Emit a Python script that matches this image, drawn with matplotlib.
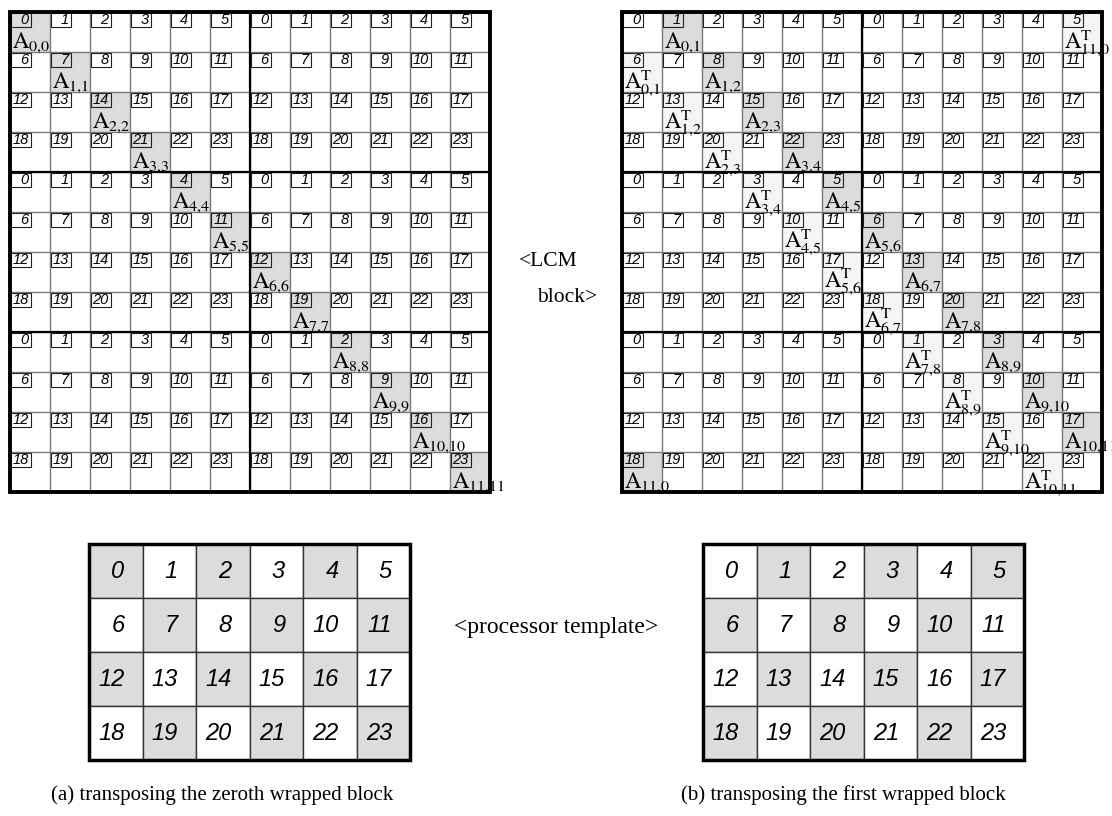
import matplotlib.pyplot as plt
from matplotlib.patches import Rectangle

plt.rcParams["mathtext.fontset"] = "stix"

# processor ids of the 4 x 6 processor template
proc_ids = [
    [0, 1, 2, 3, 4, 5],
    [6, 7, 8, 9, 10, 11],
    [12, 13, 14, 15, 16, 17],
    [18, 19, 20, 21, 22, 23],
]

# shaded template cells
shaded_a = [0, 2, 4, 7, 9, 11, 12, 14, 16, 19, 21, 23]
shaded_b = [1, 3, 5, 6, 8, 10, 13, 15, 17, 18, 20, 22]

# blocks (row, col) of the 12 x 12 LCM block
diag_blocks = [(0, 0), (1, 1), (2, 2), (3, 3), (4, 4), (5, 5),
               (6, 6), (7, 7), (8, 8), (9, 9), (10, 10), (11, 11)]
upper_blocks = [(0, 1), (1, 2), (2, 3), (3, 4), (4, 5), (5, 6),
                (6, 7), (7, 8), (8, 9), (9, 10), (10, 11), (11, 0)]
lower_blocks = [(1, 0), (2, 1), (3, 2), (4, 3), (5, 4), (6, 5),
                (7, 6), (8, 7), (9, 8), (10, 9), (11, 10), (0, 11)]

captions = ["(a) transposing the zeroth wrapped block",
            "(b) transposing the first wrapped block"]

GRAY = "#dcdcdc"
LIGHT = "#f5f5f5"
CELL = 40
N = 12
SERIF = "Liberation Serif"
SANS = "Liberation Sans"


def lcm_grid(ax, x0, y0, fills, labels):
    for r in range(N):
        for c in range(N):
            x = x0 + c * CELL
            y = y0 + r * CELL
            fc = fills.get((r, c), "white")
            ax.add_patch(Rectangle((x, y), CELL, CELL, facecolor=fc, edgecolor="none", zorder=1))
            # small processor number box
            ax.add_patch(Rectangle((x + 0.5, y + 0.5), 20, 14, facecolor=fc,
                                   edgecolor="#222222", lw=0.8, zorder=3))
            ax.text(x + 18.5, y + 8, str(proc_ids[r % 4][c % 6]), ha="right", va="center",
                    fontsize=10.5, style="italic", family=SANS, zorder=4)
    # thin cell lines
    for i in range(N + 1):
        ax.plot([x0 + i * CELL] * 2, [y0, y0 + N * CELL], color="#7a7a7a", lw=1.0, zorder=2)
        ax.plot([x0, x0 + N * CELL], [y0 + i * CELL] * 2, color="#7a7a7a", lw=1.0, zorder=2)
    # template boundaries
    ax.plot([x0 + 6 * CELL] * 2, [y0, y0 + N * CELL], color="black", lw=1.6, zorder=5)
    for r in (4, 8):
        ax.plot([x0, x0 + N * CELL], [y0 + r * CELL] * 2, color="black", lw=1.6, zorder=5)
    ax.add_patch(Rectangle((x0, y0), N * CELL, N * CELL, facecolor="none",
                           edgecolor="black", lw=2.8, zorder=6))
    for (r, c), lab in labels.items():
        ax.text(x0 + c * CELL + 2, y0 + (r + 1) * CELL - 4, lab, ha="left", va="baseline",
                fontsize=16.5, zorder=7)


def template(ax, x0, y0, shaded):
    cw, ch = 53.5, 54
    for r in range(4):
        for c in range(6):
            pid = proc_ids[r][c]
            fc = GRAY if pid in shaded else "white"
            ax.add_patch(Rectangle((x0 + c * cw, y0 + r * ch), cw, ch, facecolor=fc,
                                   edgecolor="#333333", lw=1.0, zorder=1))
            ax.text(x0 + (c + 1) * cw - 18, y0 + (r + 0.5) * ch, str(pid), ha="right",
                    va="center", fontsize=17, style="italic", family=SANS, zorder=3)
    ax.add_patch(Rectangle((x0, y0), 6 * cw, 4 * ch, facecolor="none",
                           edgecolor="black", lw=2.5, zorder=4))


fig = plt.figure(figsize=(11.12, 8.16), dpi=100)
ax = fig.add_axes([0, 0, 1, 1])
ax.set_xlim(0, 1112)
ax.set_ylim(816, 0)
ax.axis("off")

# (a) zeroth wrapped block: diagonal
fills_a = {b: GRAY for b in diag_blocks}
labels_a = {(r, c): r"$\mathrm{A}_{%d{,}%d}$" % (r, c) for r, c in diag_blocks}
lcm_grid(ax, 10, 12, fills_a, labels_a)

# (b) first wrapped block: super-diagonal and its transpose
fills_b = {b: GRAY for b in upper_blocks}
fills_b.update({b: LIGHT for b in lower_blocks})
labels_b = {(r, c): r"$\mathrm{A}_{%d{,}%d}$" % (r, c) for r, c in upper_blocks}
labels_b.update({(r, c): r"$\mathrm{A}^{\mathrm{T}}_{%d{,}%d}$" % (c, r) for r, c in lower_blocks})
lcm_grid(ax, 622, 12, fills_b, labels_b)

ax.text(548, 262, "<LCM", ha="center", va="center", fontsize=15.5, family=SERIF)
ax.text(567, 297, "block>", ha="center", va="center", fontsize=15.5, family=SERIF)

template(ax, 89, 544, shaded_a)
template(ax, 703, 544, shaded_b)

ax.text(556, 628, "<processor template>", ha="center", va="center", fontsize=17, family=SERIF)
ax.text(222, 795, captions[0], ha="center", va="center", fontsize=15, family=SERIF)
ax.text(843, 795, captions[1], ha="center", va="center", fontsize=15, family=SERIF)

fig.savefig("out.png", dpi=100)
